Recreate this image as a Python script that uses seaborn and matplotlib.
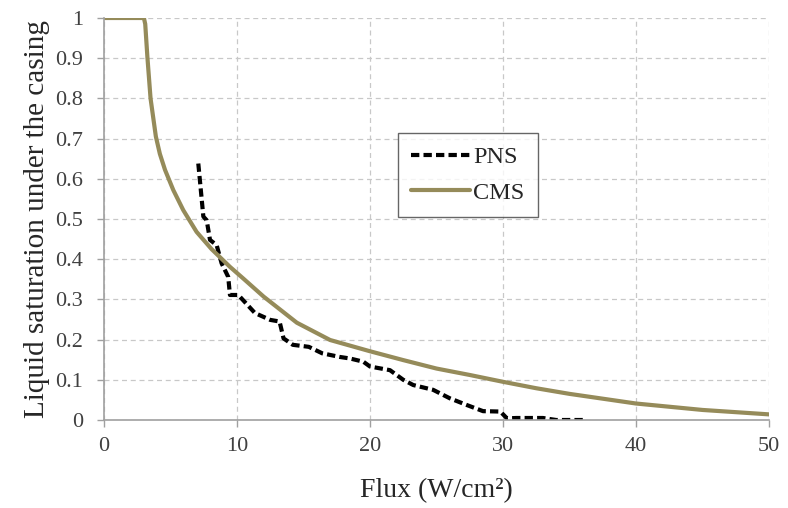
import numpy as np
import pandas as pd
import seaborn as sns
from matplotlib import pyplot as plt

# CMS curve
cms_flux = [0, 1, 2, 3.0, 3.1, 3.26, 3.5, 3.9, 4.2, 4.59, 5.21, 5.96, 6.96, 8.09, 9.47, 10.47,
            12.0, 14.5, 17.0, 20.0, 22.5, 25, 27.5, 30, 32.5, 35, 40, 45, 50]
cms_sat = [1, 1, 1, 1, 0.985, 0.904, 0.80, 0.705, 0.662, 0.622, 0.572, 0.522, 0.468, 0.425, 0.381,
           0.352, 0.307, 0.242, 0.199, 0.171, 0.149, 0.128, 0.112, 0.095, 0.079, 0.065, 0.041,
           0.025, 0.014]

# PNS curve
pns_flux = [7.09, 7.47, 7.72, 7.97, 8.47, 8.84, 9.34, 9.47, 10.1, 11.35, 12.5, 13.2,
            13.5, 14.2, 15.4, 16.4, 17.7, 18.5, 19.5, 20.0, 21.5, 22.5, 23.25, 24.75,
            26.0, 27.3, 28.5, 29.8, 30.3, 31, 33, 34, 36]
pns_sat = [0.638, 0.506, 0.497, 0.448, 0.435, 0.39, 0.356, 0.311, 0.311, 0.266, 0.249, 0.245,
           0.203, 0.187, 0.182, 0.166, 0.157, 0.153, 0.145, 0.133, 0.124, 0.10, 0.087, 0.075,
           0.054, 0.037, 0.022, 0.021, 0.004, 0.005, 0.005, 0.0, 0.0]

df = pd.concat([
    pd.DataFrame({'flux': pns_flux, 'sat': pns_sat, 'series': 'PNS'}),
    pd.DataFrame({'flux': cms_flux, 'sat': cms_sat, 'series': 'CMS'}),
], ignore_index=True)

sns.set_style('white')
plt.rcParams['font.family'] = ['Liberation Serif', 'DejaVu Serif']

fig = plt.figure(figsize=(7.88, 5.08), dpi=100)
ax = fig.add_axes([104 / 788, 1 - 420 / 508, 665 / 788, 402 / 508])

sns.lineplot(data=df, x='flux', y='sat', hue='series', style='series',
             palette={'PNS': 'black', 'CMS': '#958B5A'},
             dashes={'PNS': (2.0, 1.0), 'CMS': ''},
             estimator=None, sort=False, linewidth=3, ax=ax)

ax.set_xlim(0, 50)
ax.set_ylim(0, 1)
ax.set_xticks(np.arange(0, 51, 10))
ax.set_yticks(np.round(np.arange(0, 1.01, 0.1), 1))
ax.set_yticklabels(['0'] + [f'{v:.1f}' for v in np.arange(0.1, 0.95, 0.1)] + ['1'])
ax.grid(True, color='#C8C8C8', linestyle=(0, (4, 3)), linewidth=0.9)
ax.set_axisbelow(True)
for s in ['top', 'right']:
    ax.spines[s].set_visible(False)
for s in ['left', 'bottom']:
    ax.spines[s].set_color('#A0A0A0')
    ax.spines[s].set_linewidth(1.2)
ax.tick_params(axis='both', labelsize=16, colors='#404040', length=5, width=1, color='#A0A0A0',
               direction='out', left=True, bottom=True)
ax.tick_params(axis='y', pad=10)
ax.tick_params(axis='x', pad=7)
ax.set_xlabel('Flux (W/cm²)', fontsize=20, color='#262626', labelpad=16)
ax.set_ylabel('Liquid saturation under the casing', fontsize=21, color='#262626', labelpad=4)

leg = ax.legend(loc='upper left', bbox_to_anchor=(0.442, 0.714), borderaxespad=0, fontsize=17.5,
                frameon=True, fancybox=False, edgecolor='#404040', handlelength=2.4,
                handletextpad=0.15, borderpad=0.55, labelspacing=0.55)
leg.get_frame().set_linewidth(1.0)

fig.savefig('out.png', dpi=100)
